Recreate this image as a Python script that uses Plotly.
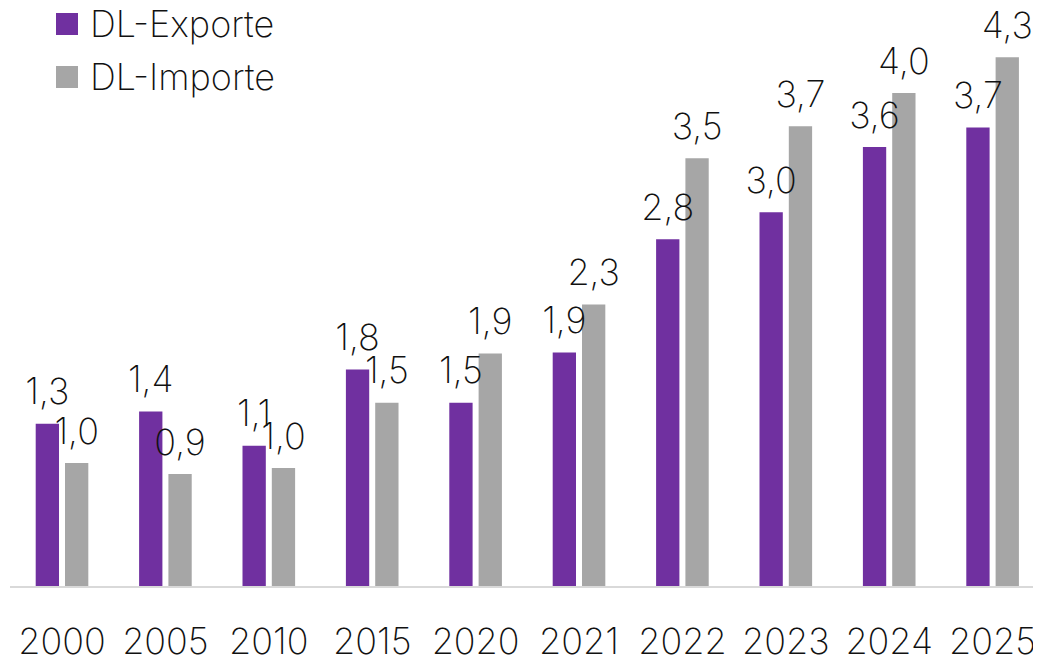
import plotly.graph_objects as go

years = ["2000", "2005", "2010", "2015", "2020", "2021", "2022", "2023", "2024", "2025"]
exports = [1.32, 1.42, 1.14, 1.76, 1.49, 1.90, 2.82, 3.04, 3.57, 3.73]
imports = [1.00, 0.91, 0.96, 1.49, 1.89, 2.29, 3.48, 3.74, 4.01, 4.30]
series_names = ["DL-Exporte", "DL-Importe"]
colors = ["#7030A0", "#A6A6A6"]
groups = ["exp", "imp"]

# page offset caused by the default body margin of the html page
OFF = 8
W, H = 1041 - OFF, 658 - OFF
ML, MR, MT, MB = 2, 0, 2, 72
FONT = dict(family="Inter, Lato, sans-serif", size=36, color="#111111", weight=250)
LEGFONT = dict(FONT, size=36)

def px_x(p):
    # page pixel -> paper coordinate
    return (p - OFF - ML) / (W - ML - MR)

def px_y(p):
    return (H - MB - (p - OFF)) / (H - MT - MB)

fig = go.Figure()
for name, vals, col, g in zip(series_names, [exports, imports], colors, groups):
    fig.add_trace(go.Bar(
        x=years, y=vals, name=name, marker=dict(color=col, line=dict(width=0)),
        offsetgroup=g, showlegend=False, hoverinfo="skip",
    ))
# value labels drawn on top of all bars (invisible marker sets the gap above the bar)
for name, vals, g in zip(series_names, [exports, imports], groups):
    fig.add_trace(go.Scatter(
        x=years, y=vals, name=name, mode="markers+text", offsetgroup=g,
        marker=dict(size=15, opacity=0),
        texttemplate="%{y:.1f}", textposition="top center", textfont=FONT,
        cliponaxis=False, showlegend=False,
    ))

shapes = []
annotations = []
for i, (name, col) in enumerate(zip(series_names, colors)):
    cy = 24 + i * 53
    shapes.append(dict(type="rect", xref="paper", yref="paper",
                       x0=px_x(56), x1=px_x(78), y0=px_y(cy - 11), y1=px_y(cy + 11),
                       fillcolor=col, line=dict(width=0)))
    annotations.append(dict(xref="paper", yref="paper", x=px_x(88), y=px_y(cy),
                            xanchor="left", yanchor="middle", text=name,
                            showarrow=False, font=LEGFONT))

fig.update_layout(
    width=W, height=H,
    margin=dict(l=ML, r=MR, t=MT, b=MB),
    paper_bgcolor="white", plot_bgcolor="white",
    barmode="group", bargap=0.433, bargroupgap=0.205,
    scattermode="group", scattergap=0.433,
    separators=",.",
    font=FONT,
    shapes=shapes, annotations=annotations,
    xaxis=dict(type="category", range=[-0.503, 9.468], showline=True, linecolor="#D9D9D9",
               linewidth=1.5, ticks="", tickfont=FONT, ticklabelstandoff=23,
               automargin=False, showgrid=False, zeroline=False, fixedrange=True),
    yaxis=dict(range=[0, 576 / 122.95], visible=False, automargin=False,
               showgrid=False, zeroline=False),
)

fig.write_html("out.html")
